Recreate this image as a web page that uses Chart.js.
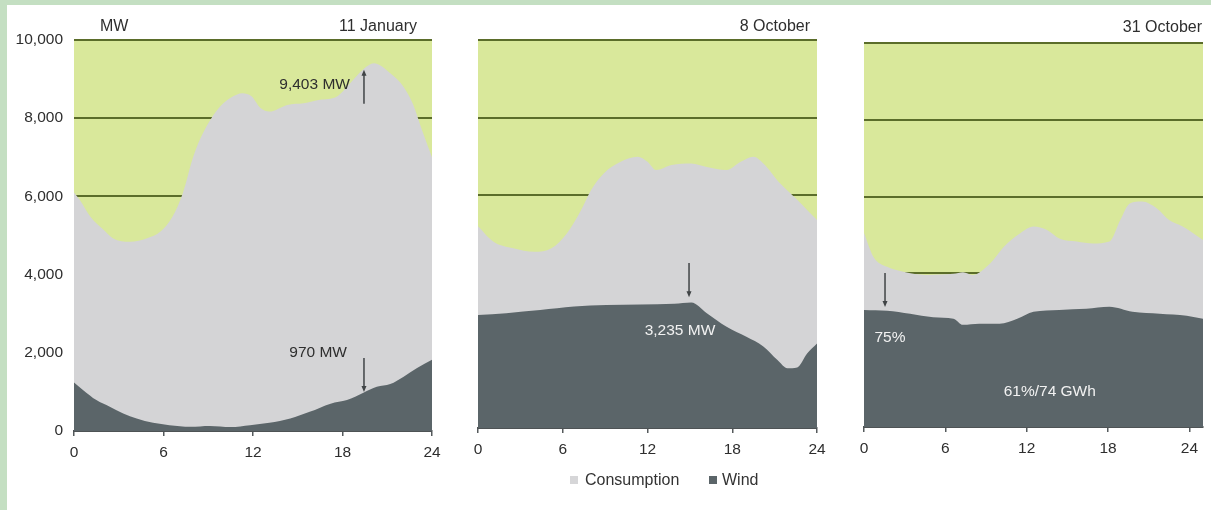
<!DOCTYPE html>
<html>
<head>
<meta charset="utf-8">
<script src="https://cdn.jsdelivr.net/npm/chart.js@4.4.1/dist/chart.umd.min.js"></script>
<style>
  html, body { margin:0; padding:0; }
  body { width:1211px; height:510px; background:#c4dfc2; position:relative; overflow:hidden;
         font-family:"Liberation Sans", Arial, Helvetica, sans-serif; }
  #inner { position:absolute; left:7px; top:5px; right:0; bottom:0; background:#ffffff; }
  canvas { position:absolute; left:0; top:0; }
  .lg { position:absolute; font-size:16px; color:#333; line-height:18px; white-space:nowrap; }
  .sq { position:absolute; width:8px; height:8px; }
</style>
</head>
<body>
<div id="inner"></div>
<canvas id="c1" width="1211" height="510"></canvas>
<canvas id="c2" width="1211" height="510"></canvas>
<canvas id="c3" width="1211" height="510"></canvas>
<div class="sq" style="left:570px; top:476px; background:#d6d6d8;"></div>
<div class="lg" style="left:585px; top:471px;">Consumption</div>
<div class="sq" style="left:709px; top:476px; background:#5b6569;"></div>
<div class="lg" style="left:722px; top:471px;">Wind</div>
<script>
// ---------------- data ----------------
const xTicks = [0, 6, 12, 18, 24];
const yTicks = [0, 2000, 4000, 6000, 8000, 10000];
const titles = ["11 January", "8 October", "31 October"];
const unitLabel = "MW";
const seriesNames = ["Consumption", "Wind"];

// 11 January
const consHours1 = [0, 0.4, 1.1, 2, 2.6, 3.75, 4.9, 5.8, 6.6, 7.3, 8, 8.65, 9.6, 10.5, 11.3, 11.9, 12.5, 13.1, 14.3, 15.4, 16.5, 17.6, 18.5, 19.4, 20.1, 21.2, 22.1, 22.7, 23.4, 24];
const cons1      = [6100, 5900, 5480, 5140, 4930, 4840, 4930, 5100, 5480, 6090, 7020, 7620, 8210, 8520, 8640, 8560, 8260, 8170, 8340, 8380, 8470, 8550, 8890, 9250, 9403, 9150, 8800, 8380, 7620, 7000];
const windHours1 = [0, 0.6, 1.5, 2.4, 3.3, 4.2, 5.3, 6.4, 7.8, 9.1, 10.5, 11.8, 13.1, 14.5, 15.8, 17.2, 18.3, 19.4, 20.3, 21.2, 22.1, 23, 24];
const wind1      = [1240, 1050, 790, 620, 450, 320, 210, 150, 110, 130, 100, 150, 210, 320, 490, 700, 790, 980, 1130, 1200, 1390, 1610, 1820];

// 8 October
const consHours2 = [0, 1.1, 2.5, 4, 5.2, 6.3, 7.3, 8, 8.9, 10.1, 11.3, 12, 12.6, 13.7, 15.1, 16.2, 17.6, 18.6, 19.5, 20.2, 21.4, 22.6, 23.3, 24];
const cons2      = [5200, 4800, 4630, 4540, 4630, 5020, 5620, 6130, 6560, 6860, 6990, 6860, 6650, 6780, 6820, 6730, 6650, 6860, 6990, 6820, 6300, 5880, 5620, 5360];
const windHours2 = [0, 2, 4.4, 6.8, 9.1, 11.5, 13.9, 15.1, 16.2, 17.6, 19, 20.2, 21.2, 21.9, 22.6, 23.3, 24];
const wind2      = [2910, 2960, 3040, 3130, 3170, 3180, 3200, 3235, 2960, 2610, 2350, 2100, 1750, 1540, 1560, 1920, 2180];

// 31 October
const consHours3 = [0, 0.7, 1.7, 2.9, 4.6, 5.6, 6.6, 7.3, 8, 9.3, 10.3, 11.5, 12.5, 13.5, 14.4, 15.7, 16.9, 18.1, 18.9, 19.6, 20.5, 21.6, 22.5, 23.5, 25];
const cons3      = [5050, 4430, 4170, 4040, 3960, 3970, 3990, 4030, 3960, 4260, 4690, 5040, 5220, 5130, 4910, 4830, 4780, 4830, 5390, 5820, 5870, 5690, 5390, 5220, 4870];
const windHours3 = [0, 1.7, 3.4, 5.1, 6.6, 7.3, 8.5, 10, 11.3, 12.5, 14.4, 16.4, 18.1, 19.8, 21.8, 23.8, 25];
const wind3      = [3050, 3030, 2950, 2860, 2820, 2660, 2690, 2690, 2820, 3000, 3050, 3080, 3130, 3000, 2950, 2900, 2820];

// annotations (data coordinates)
const notes1 = [
  { text: "9,403 MW", x: 18.5, y: 8850, align: "right", color: "dark" },
  { text: "970 MW",   x: 18.3, y: 1995, align: "right", color: "dark" }
];
const arrows1 = [
  { x: 19.44, from: 8370, to: 9240 },
  { x: 19.44, from: 1870, to: 1000 }
];
const notes2 = [ { text: "3,235 MW", x: 14.3, y: 2500, align: "center", color: "light" } ];
const arrows2 = [ { x: 14.94, from: 4250, to: 3370 } ];
const notes3 = [
  { text: "75%", x: 1.91, y: 2330, align: "center", color: "light" },
  { text: "61%/74 GWh", x: 13.7, y: 925, align: "center", color: "light" }
];
const arrows3 = [ { x: 1.55, from: 4010, to: 3125 } ];

// ---------------- styles ----------------
const PLOT_BG = "#d9e89b";
const GRID = "#5b6d2a";
const CONS_COL = "#d4d4d6";
const WIND_COL = "#5b6569";
const TEXT = "#2e2e2e";
const FONT = '"Liberation Sans", Arial, Helvetica, sans-serif';
Chart.defaults.font.family = FONT;

function pts(xs, ys) { return xs.map((x, i) => ({ x: x, y: ys[i] })); }

function makeChart(id, p) {
  const plugin = {
    id: "deco" + id,
    beforeDraw(chart) {
      const a = chart.chartArea, ctx = chart.ctx;
      ctx.save();
      ctx.fillStyle = PLOT_BG;
      ctx.fillRect(a.left, a.top, a.right - a.left, a.bottom - a.top);
      ctx.restore();
    },
    afterDraw(chart) {
      const a = chart.chartArea, ctx = chart.ctx;
      const xs = chart.scales.x, ys = chart.scales.y;
      ctx.save();
      ctx.font = "16px " + FONT;
      ctx.fillStyle = TEXT;
      ctx.textBaseline = "middle";
      if (p.unit) { ctx.textAlign = "left"; ctx.fillText(p.unit, a.left + 26, 27); }
      ctx.textAlign = "right";
      ctx.fillText(p.title, a.right - p.titleInset, p.titleY);
      // arrows
      ctx.strokeStyle = "#404446";
      ctx.fillStyle = "#404446";
      ctx.lineWidth = 1.5;
      p.arrows.forEach(ar => {
        const x = xs.getPixelForValue(ar.x);
        const y1 = ys.getPixelForValue(ar.from), y2 = ys.getPixelForValue(ar.to);
        const dir = y2 > y1 ? 1 : -1;
        ctx.beginPath(); ctx.moveTo(x, y1); ctx.lineTo(x, y2 - dir * 3); ctx.stroke();
        ctx.beginPath(); ctx.moveTo(x, y2); ctx.lineTo(x - 2.5, y2 - dir * 6); ctx.lineTo(x + 2.5, y2 - dir * 6); ctx.closePath(); ctx.fill();
      });
      // notes
      ctx.font = "15.5px " + FONT;
      p.notes.forEach(n => {
        ctx.fillStyle = n.color === "light" ? "#f2f2f2" : TEXT;
        ctx.textAlign = n.align;
        ctx.fillText(n.text, xs.getPixelForValue(n.x), ys.getPixelForValue(n.y));
      });
      ctx.restore();
    }
  };
  return new Chart(document.getElementById(id), {
    type: "line",
    data: {
      datasets: [
        { label: seriesNames[1], data: pts(p.wh, p.w), backgroundColor: WIND_COL, borderWidth: 0, pointRadius: 0, fill: "origin", cubicInterpolationMode: "monotone", order: 0 },
        { label: seriesNames[0], data: pts(p.ch, p.c), backgroundColor: CONS_COL, borderWidth: 0, pointRadius: 0, fill: "origin", cubicInterpolationMode: "monotone", order: 1 }
      ]
    },
    options: {
      responsive: false, animation: false, devicePixelRatio: 1,
      events: [],
      layout: { autoPadding: false, padding: { left: p.left, right: 1211 - p.right, top: p.top, bottom: 0 } },
      plugins: { legend: { display: false }, tooltip: { enabled: false }, title: { display: false } },
      scales: {
        x: {
          type: "linear", min: 0, max: p.xmax, z: 1,
          afterBuildTicks: s => { s.ticks = xTicks.map(v => ({ value: v })); },
          afterFit: s => { s.height = 510 - p.bottom; s.paddingLeft = 0; s.paddingRight = 0; },
          ticks: { color: TEXT, font: { size: 15.5 }, padding: 7, maxRotation: 0, autoSkip: false, callback: v => String(v) },
          grid: { display: true, drawOnChartArea: false, drawTicks: true, tickLength: 5, color: "#555a5c", lineWidth: 1.5 },
          border: { display: true, color: "#4e5355", width: 2 }
        },
        y: {
          type: "linear", min: 0, max: 10000,
          afterBuildTicks: s => { s.ticks = yTicks.map(v => ({ value: v })); },
          afterFit: s => { s.width = p.yWidth; s.paddingTop = 0; s.paddingBottom = 0; },
          ticks: { display: p.showY, color: TEXT, font: { size: 15.5 }, padding: 11, callback: v => v.toLocaleString("en-US") },
          grid: { drawTicks: false, lineWidth: 2, color: c => (c.tick && c.tick.value === 0) ? "rgba(0,0,0,0)" : GRID },
          border: { display: false }
        }
      }
    },
    plugins: [plugin]
  });
}

makeChart("c1", { left: 0, yWidth: 74, right: 432, top: 40, bottom: 431, xmax: 24, showY: true,
  unit: unitLabel, title: titles[0], titleInset: 15, titleY: 27,
  ch: consHours1, c: cons1, wh: windHours1, w: wind1, notes: notes1, arrows: arrows1 });
makeChart("c2", { left: 478, yWidth: 0, right: 817, top: 40, bottom: 428, xmax: 24, showY: false,
  unit: null, title: titles[1], titleInset: 7, titleY: 27,
  ch: consHours2, c: cons2, wh: windHours2, w: wind2, notes: notes2, arrows: arrows2 });
makeChart("c3", { left: 864, yWidth: 0, right: 1203, top: 43, bottom: 427, xmax: 25, showY: false,
  unit: null, title: titles[2], titleInset: 1, titleY: 28,
  ch: consHours3, c: cons3, wh: windHours3, w: wind3, notes: notes3, arrows: arrows3 });
</script>
</body>
</html>
